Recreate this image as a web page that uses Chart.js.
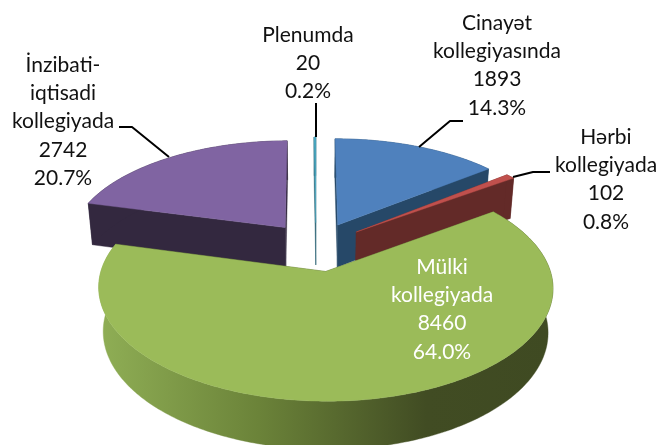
<!DOCTYPE html>
<html>
<head>
<meta charset="utf-8">
<style>html,body{margin:0;padding:0;background:#fff}canvas{display:block}</style>
<script src="https://cdn.jsdelivr.net/npm/chart.js@4"></script>
</head>
<body>
<canvas id="c" width="662" height="445"></canvas>
<script>
const categories = [
  ["Cinayət", "kollegiyasında"],
  ["Hərbi", "kollegiyada"],
  ["Mülki", "kollegiyada"],
  ["İnzibati-", "iqtisadi", "kollegiyada"],
  ["Plenumda"]
];
const values = [1893, 102, 8460, 2742, 20];
const topColors = ["#4F81BD", "#C0504D", "#9BBB59", "#8064A2", "#4BACC6"];
const wallColors = ["#264868", "#632A28", "#4C5C2A", "#33283F", "#2A6373"];
const drawOrder = [4, 3, 0, 1, 2];
const labelColors = ["#111", "#111", "#fff", "#111", "#111"];
const labelCenters = [[497, 23], [606, 137], [442, 267], [63, 65], [308, 35]];
const leaderLines = [
  [[463, 121], [450, 121], [419, 147]],
  [[550, 172], [533, 172], [513, 177]],
  [],
  [[119, 127], [132, 127], [169, 157]],
  [[316, 103], [316, 137]]
];
const view = {A: 1.225, B: 0.585, D: 44, p: 0.14, q: 0.02};
const lineGap = 28.3;
const total = values.reduce((a, b) => a + b, 0);

const pie3d = {
  id: "pie3d",
  beforeDatasetDraw(chart) {
    const ctx = chart.ctx;
    const arcs = chart.getDatasetMeta(0).data;
    for (const i of drawOrder) {
      const arc = arcs[i];
      const r = arc.outerRadius, off = arc.options.offset / r;
      const mid = (arc.startAngle + arc.endAngle) / 2;
      const du = Math.cos(mid) * off, dv = Math.sin(mid) * off;
      const P = (u, v, z) => {
        const uu = u + du, vv = v + dv;
        const w = 1 - view.p * vv + view.q * z;
        return [arc.x + view.A * r * uu / w, arc.y + (view.B * r * vv + view.D * z) / w];
      };
      const rim = [];
      const n = Math.max(2, Math.ceil((arc.endAngle - arc.startAngle) / 0.015));
      for (let k = 0; k <= n; k++) {
        const t = arc.startAngle + (arc.endAngle - arc.startAngle) * k / n;
        rim.push([Math.cos(t), Math.sin(t)]);
      }
      const fill = (pts, col) => {
        ctx.beginPath();
        pts.forEach((p, j) => j ? ctx.lineTo(p[0], p[1]) : ctx.moveTo(p[0], p[1]));
        ctx.closePath();
        ctx.fillStyle = col;
        ctx.strokeStyle = col;
        ctx.lineWidth = 0.4;
        ctx.fill();
        ctx.stroke();
      };
      // radial walls
      for (const e of [rim[0], rim[rim.length - 1]]) {
        fill([P(0, 0, 0), P(e[0], e[1], 0), P(e[0], e[1], 1), P(0, 0, 1)], wallColors[i]);
      }
      // outer wall
      const wall = rim.map(e => P(e[0], e[1], 0)).concat(rim.slice().reverse().map(e => P(e[0], e[1], 1)));
      let wallFill = wallColors[i];
      if (i === 2) {
        const g = ctx.createLinearGradient(100, 0, 553, 0);
        g.addColorStop(0, "#8FAE55");
        g.addColorStop(0.35, "#6B8339");
        g.addColorStop(0.72, "#414C23");
        g.addColorStop(1, "#3F4A22");
        wallFill = g;
      }
      fill(wall, wallFill);
      // top face
      fill([P(0, 0, 0)].concat(rim.map(e => P(e[0], e[1], 0))), topColors[i]);
    }
    return false;
  },
  afterDraw(chart) {
    const ctx = chart.ctx;
    ctx.save();
    ctx.strokeStyle = "#000";
    ctx.lineWidth = 2;
    ctx.lineJoin = "round";
    leaderLines.forEach(line => {
      if (!line.length) return;
      ctx.beginPath();
      line.forEach((p, j) => j ? ctx.lineTo(p[0], p[1]) : ctx.moveTo(p[0], p[1]));
      ctx.stroke();
    });
    ctx.font = "21px Lato";
    ctx.textAlign = "center";
    ctx.textBaseline = "middle";
    categories.forEach((name, i) => {
      const lines = name.concat([String(values[i]), (values[i] / total * 100).toFixed(1) + "%"]);
      ctx.fillStyle = labelColors[i];
      lines.forEach((t, j) => ctx.fillText(t, labelCenters[i][0], labelCenters[i][1] + j * lineGap));
    });
    ctx.restore();
  }
};

new Chart(document.getElementById("c"), {
  type: "pie",
  data: {
    labels: categories.map(c => c.join(" ")),
    datasets: [{data: values, backgroundColor: topColors, offset: 42, borderWidth: 0}]
  },
  options: {
    responsive: false,
    animation: false,
    devicePixelRatio: 1,
    layout: {padding: {top: 48, right: 30}},
    plugins: {legend: {display: false}, tooltip: {enabled: false}, title: {display: false}}
  },
  plugins: [pie3d]
});
</script>
</body>
</html>
